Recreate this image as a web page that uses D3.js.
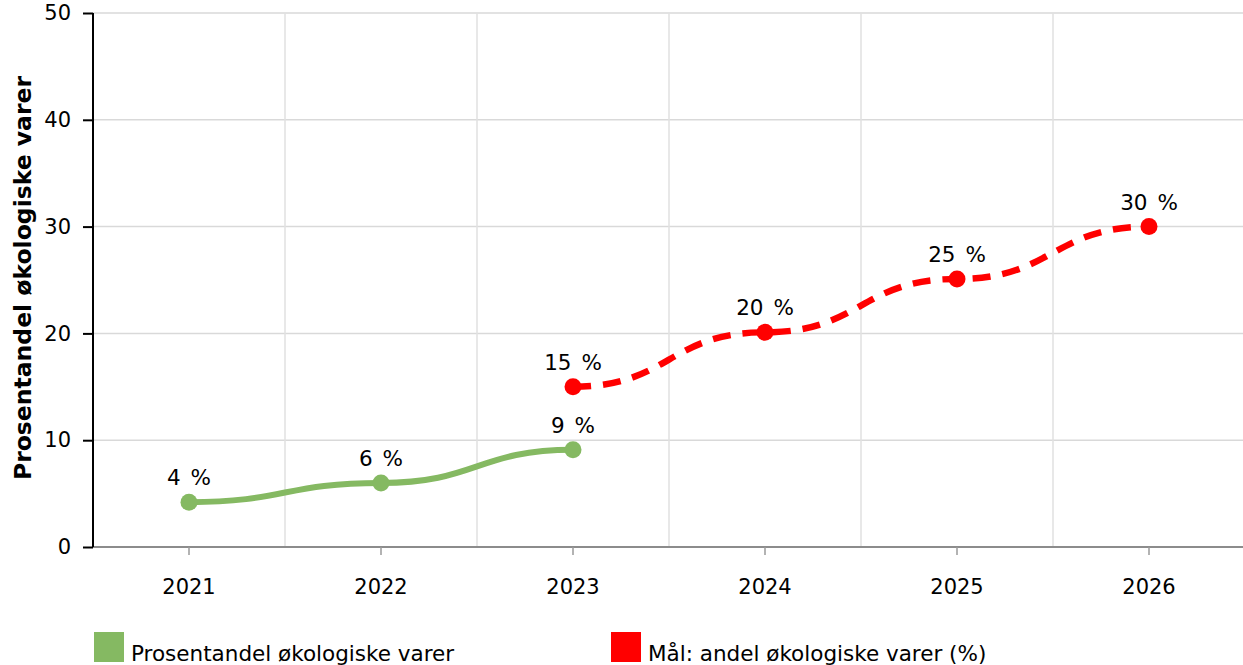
<!DOCTYPE html>
<html>
<head>
<meta charset="utf-8">
<script src="https://cdn.jsdelivr.net/npm/d3@7"></script>
<style>
  body { margin: 0; background: #fff; }
  text { font-family: "DejaVu Sans", Verdana, sans-serif; }
</style>
</head>
<body>
<svg width="1243" height="665"></svg>
<script>
var years = ["2021", "2022", "2023", "2024", "2025", "2026"];
var actualYears = ["2021", "2022", "2023"];
var actualValues = [4.2, 6.0, 9.1];
var actualLabels = ["4 %", "6 %", "9 %"];
var goalYears = ["2023", "2024", "2025", "2026"];
var goalValues = [15.0, 20.1, 25.1, 30.0];
var goalLabels = ["15 %", "20 %", "25 %", "30 %"];
var yTicks = [0, 10, 20, 30, 40, 50];
var seriesNames = ["Prosentandel økologiske varer", "Mål: andel økologiske varer (%)"];
var seriesColors = ["#85b962", "#ff0000"];

var svg = d3.select("svg"),
    width = +svg.attr("width"),
    height = +svg.attr("height");

var plotLeft = 93, plotRight = 1245, plotTop = 13, plotBottom = 547;

var x = d3.scaleBand().domain(years).range([plotLeft, plotRight]);
var y = d3.scaleLinear().domain([0, 50]).range([plotBottom, plotTop]);

// grid
svg.append("g").selectAll("line")
    .data(yTicks.slice(1))
    .enter().append("line")
    .attr("x1", plotLeft).attr("x2", width)
    .attr("y1", function(d) { return y(d); }).attr("y2", function(d) { return y(d); })
    .attr("stroke", "#d9d9d9").attr("stroke-width", 1.5);

svg.append("g").selectAll("line")
    .data(years.slice(1))
    .enter().append("line")
    .attr("x1", function(d) { return x(d); }).attr("x2", function(d) { return x(d); })
    .attr("y1", plotTop).attr("y2", plotBottom)
    .attr("stroke", "#e0e0e0").attr("stroke-width", 1.5);

// x axis
var xAxis = svg.append("g")
    .attr("transform", "translate(0," + plotBottom + ")")
    .call(d3.axisBottom(x).tickSize(8).tickPadding(24));
xAxis.select(".domain").attr("stroke", "#8c8c8c").attr("stroke-width", 2)
    .attr("d", "M" + plotLeft + ",0H" + width);
xAxis.selectAll(".tick line").attr("stroke", "#9a9a9a").attr("stroke-width", 1.5);
xAxis.selectAll(".tick text").attr("font-size", 21).attr("fill", "#000")
    .style("font-family", "DejaVu Sans");

// y axis
var yAxis = svg.append("g")
    .attr("transform", "translate(" + plotLeft + ",0)")
    .call(d3.axisLeft(y).tickValues(yTicks).tickSize(10).tickPadding(12));
yAxis.select(".domain").attr("stroke", "#000").attr("stroke-width", 2)
    .attr("d", "M0," + plotTop + "V" + plotBottom);
yAxis.selectAll(".tick line").attr("stroke", "#000").attr("stroke-width", 2);
yAxis.selectAll(".tick text").attr("font-size", 21).attr("fill", "#000")
    .style("font-family", "DejaVu Sans");

svg.append("text")
    .attr("transform", "translate(31,278) rotate(-90)")
    .attr("text-anchor", "middle")
    .attr("font-size", 23.5).attr("font-weight", "bold")
    .text("Prosentandel økologiske varer");

var cx = function(d) { return x(d) + x.bandwidth() / 2; };
var line = d3.line().curve(d3.curveBumpX)
    .x(function(d) { return cx(d[0]); })
    .y(function(d) { return y(d[1]); });

function drawSeries(ys, vals, labels, color, dash) {
  var pts = ys.map(function(d, i) { return [d, vals[i], labels[i]]; });
  svg.append("path").datum(pts)
      .attr("d", line)
      .attr("fill", "none")
      .attr("stroke", color)
      .attr("stroke-width", dash ? 6.5 : 6)
      .attr("stroke-dasharray", dash ? "18,12" : null);
  svg.append("g").selectAll("circle")
      .data(pts).enter().append("circle")
      .attr("cx", function(d) { return cx(d[0]); })
      .attr("cy", function(d) { return y(d[1]); })
      .attr("r", 8.5)
      .attr("fill", color);
  svg.append("g").selectAll("text")
      .data(pts).enter().append("text")
      .attr("x", function(d) { return cx(d[0]); })
      .attr("y", function(d) { return y(d[1]) - 17; })
      .attr("text-anchor", "middle")
      .attr("font-size", 21.5)
      .attr("word-spacing", 3)
      .text(function(d) { return d[2]; });
}

drawSeries(actualYears, actualValues, actualLabels, seriesColors[0], false);
drawSeries(goalYears, goalValues, goalLabels, seriesColors[1], true);

// legend
var legendX = [94, 611];
var legend = svg.append("g").selectAll("g")
    .data(seriesNames).enter().append("g")
    .attr("transform", function(d, i) { return "translate(" + legendX[i] + ",632)"; });
legend.append("rect").attr("width", 30).attr("height", 30)
    .attr("fill", function(d, i) { return seriesColors[i]; });
legend.append("text").attr("x", 37).attr("y", 29)
    .attr("font-size", 21.5)
    .text(function(d) { return d; });
</script>
</body>
</html>
